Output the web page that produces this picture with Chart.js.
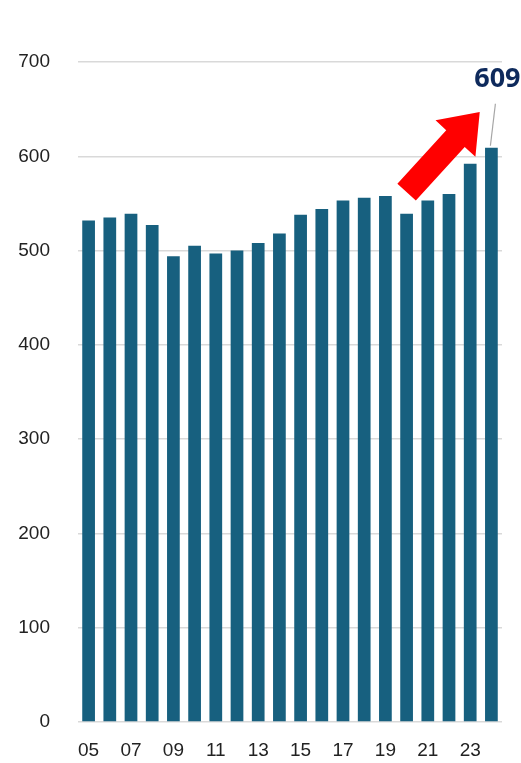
<!DOCTYPE html>
<html>
<head>
<meta charset="utf-8">
<script src="https://cdn.jsdelivr.net/npm/chart.js@4"></script>
<style>
  html, body { margin: 0; padding: 0; background: #fff; overflow: hidden; }
  canvas { display: block; }
</style>
</head>
<body>
<canvas id="chart" width="521" height="763"></canvas>
<script>
// Years (two-digit), tick labels shown every other year
const years = ['05','06','07','08','09','10','11','12','13','14','15','16','17','18','19','20','21','22','23','24'];
const values = [532, 535, 539, 527, 494, 505, 497, 500, 508, 518, 538, 544, 553, 556, 558, 539, 553, 560, 592, 609];
const yTicks = [0, 100, 200, 300, 400, 500, 600, 700];

// Arrow and callout drawn on top of the bars, placed through the scales
const overlayPlugin = {
    id: 'overlay',
    afterDatasetsDraw(chart) {
        const ctx = chart.ctx;
        const x = chart.scales.x;
        const y = chart.scales.y;

        // red arrow: tail at the 2020 bar, head between 23 and 24
        const tx = x.getPixelForValue(15), ty = y.getPixelForValue(562);
        const hx = x.getPixelForValue(18.45), hy = y.getPixelForValue(647);
        const ang = Math.atan2(hy - ty, hx - tx);
        const len = Math.hypot(hx - tx, hy - ty);
        const shaftW = 25, headW = 54, headL = 36;
        ctx.save();
        ctx.translate(tx, ty);
        ctx.rotate(ang);
        ctx.beginPath();
        ctx.moveTo(0, -shaftW / 2);
        ctx.lineTo(len - headL, -shaftW / 2);
        ctx.lineTo(len - headL, -headW / 2);
        ctx.lineTo(len, 0);
        ctx.lineTo(len - headL, headW / 2);
        ctx.lineTo(len - headL, shaftW / 2);
        ctx.lineTo(0, shaftW / 2);
        ctx.closePath();
        ctx.fillStyle = '#ff0000';
        ctx.fill();
        ctx.restore();

        // callout for the last bar
        const last = values.length - 1;
        const bx = x.getPixelForValue(last);
        const by = y.getPixelForValue(values[last]);
        ctx.save();
        ctx.strokeStyle = '#a6a6a6';
        ctx.lineWidth = 1.2;
        ctx.beginPath();
        ctx.moveTo(bx - 1, by - 2);
        ctx.lineTo(bx + 4, by - 44);
        ctx.stroke();
        ctx.fillStyle = '#0e2a5c';
        ctx.font = 'bold 27px "Noto Sans"';
        ctx.textAlign = 'center';
        ctx.textBaseline = 'middle';
        ctx.fillText(String(values[last]), bx + 6, by - 68);
        ctx.restore();
    }
};

function initChart() {
    const ctx = document.getElementById('chart').getContext('2d');
    new Chart(ctx, {
        type: 'bar',
        data: {
            labels: years,
            datasets: [{
                data: values,
                backgroundColor: '#17607f',
                borderWidth: 0,
                barPercentage: 0.6,
                categoryPercentage: 1.0
            }]
        },
        options: {
            responsive: false,
            animation: false,
            layout: { padding: { top: 62, right: 19, bottom: 1, left: 0 } },
            plugins: {
                legend: { display: false },
                tooltip: { enabled: false }
            },
            scales: {
                x: {
                    afterFit(scale) { scale.height = 40; },
                    grid: { display: false, drawTicks: false },
                    border: { display: false },
                    ticks: {
                        autoSkip: false,
                        maxRotation: 0,
                        padding: 17,
                        color: '#222',
                        font: { family: '"Liberation Sans", Arial', size: 19 },
                        callback: function(v, i) { return i % 2 === 0 ? years[i] : ''; }
                    }
                },
                y: {
                    min: 0,
                    max: 700,
                    afterFit(scale) { scale.width = 78; },
                    afterBuildTicks(scale) { scale.ticks = yTicks.map(v => ({ value: v })); },
                    grid: { color: '#d9d9d9', lineWidth: 1.5, drawTicks: false },
                    border: { display: false },
                    ticks: {
                        padding: 28,
                        color: '#222',
                        font: { family: '"Liberation Sans", Arial', size: 19 }
                    }
                }
            }
        },
        plugins: [overlayPlugin]
    });
}

document.addEventListener('DOMContentLoaded', initChart);
</script>
</body>
</html>
